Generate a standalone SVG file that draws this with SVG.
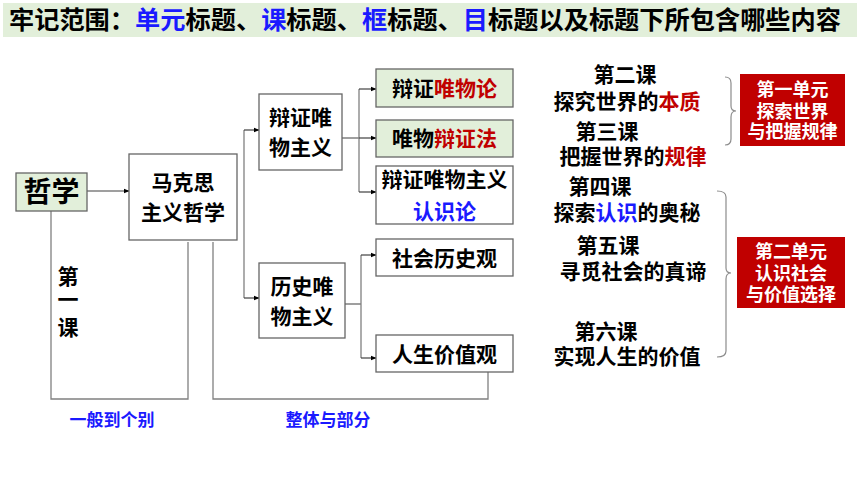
<svg xmlns="http://www.w3.org/2000/svg" width="860" height="484" viewBox="0 0 860 484">
<defs>
<marker id="ah" markerWidth="6" markerHeight="6" refX="5.5" refY="3" orient="auto" markerUnits="userSpaceOnUse">
<path d="M0,0.5 L6,3 L0,5.5 Z" fill="#000"/>
</marker>
<style>
text{font-family:"Liberation Sans","Noto Sans CJK SC",sans-serif;font-weight:bold;fill:#000}
.box{fill:#fff;stroke:#666;stroke-width:1.3}
.gbox{fill:#e2efda;stroke:#666;stroke-width:1.3}
.rbox{fill:#c00000;stroke:none}
.ln{fill:none;stroke:#808080;stroke-width:1.3}
.arr{fill:none;stroke:#404040;stroke-width:1.2;marker-end:url(#ah)}
.br{fill:none;stroke:#8c8c8c;stroke-width:1.2}
.c{text-anchor:middle}
.red{fill:#c00000}
.blue{fill:#1a1aff}
.wt{fill:#fff;font-size:18px}
.n{font-size:21px}
.les{font-size:21px}
</style>
</defs>
<g id="title">
<rect x="3" y="3" width="854" height="34" fill="#e2efda"/>
<text x="9" y="29" font-size="25" textLength="832" lengthAdjust="spacingAndGlyphs">牢记范围：<tspan class="blue">单元</tspan>标题、<tspan class="blue">课</tspan>标题、<tspan class="blue">框</tspan>标题、<tspan class="blue">目</tspan>标题以及标题下所包含哪些内容</text>
</g>
<g id="connectors">
<path class="arr" d="M87,191 H129"/>
<path class="ln" d="M244,130 V298"/>
<path class="arr" d="M244,130 H259"/>
<path class="arr" d="M244,298 H259"/>
<path class="ln" d="M342,138 H359 M359,89 V192"/>
<path class="arr" d="M359,89 H376"/>
<path class="arr" d="M359,138 H376"/>
<path class="arr" d="M359,192 H376"/>
<path class="ln" d="M345,304 H361 M361,255 V358"/>
<path class="arr" d="M361,255 H376"/>
<path class="arr" d="M361,358 H376"/>
<path class="ln" d="M51,211 V399 H188 V242"/>
<path class="ln" d="M213,242 V399 H488 V372"/>
<path class="br" d="M725,77 Q731,77 731,83 V106 Q731,111 736,111 Q731,111 731,117 V139 Q731,145 725,145"/>
<path class="br" d="M717,191 Q726,191 726,197 V268 Q726,273 731,273 Q726,273 726,279 V351 Q726,357 717,357"/>
</g>
<g id="zhexue">
<rect class="gbox" x="16" y="173" width="71" height="38"/>
<text class="c" x="51.5" y="202" font-size="28">哲学</text>
</g>
<g id="makesi">
<rect class="box" x="129" y="154" width="108" height="86"/>
<text class="c n" x="183" y="190">马克思</text>
<text class="c n" x="183" y="220">主义哲学</text>
</g>
<g id="bianzheng">
<rect class="box" x="259" y="94" width="83" height="76"/>
<text class="c n" x="300.5" y="125">辩证唯</text>
<text class="c n" x="300.5" y="155">物主义</text>
</g>
<g id="lishi">
<rect class="box" x="259" y="263" width="86" height="75"/>
<text class="c n" x="302" y="294">历史唯</text>
<text class="c n" x="302" y="324">物主义</text>
</g>
<g id="weiwulun">
<rect class="gbox" x="376" y="69" width="137" height="38"/>
<text class="c n" x="444.5" y="96">辩证<tspan class="red">唯物论</tspan></text>
</g>
<g id="bianzhengfa">
<rect class="gbox" x="376" y="120" width="137" height="37"/>
<text class="c n" x="444.5" y="146">唯物<tspan class="red">辩证法</tspan></text>
</g>
<g id="renshilun">
<rect class="box" x="376" y="166" width="137" height="58"/>
<text class="c n" x="444.5" y="187">辩证唯物主义</text>
<text class="c n blue" x="444.5" y="219">认识论</text>
</g>
<g id="shehui">
<rect class="box" x="376" y="239" width="137" height="37"/>
<text class="c n" x="444.5" y="266">社会历史观</text>
</g>
<g id="rensheng">
<rect class="box" x="376" y="335" width="137" height="37"/>
<text class="c n" x="444.5" y="362">人生价值观</text>
</g>
<g id="diyike">
<text class="c les" x="68" y="284">第</text>
<text class="c les" x="68" y="307">一</text>
<text class="c les" x="68" y="335">课</text>
</g>
<g id="labels">
<text class="c blue" x="112" y="426" font-size="17">一般到个别</text>
<text class="c blue" x="328" y="426" font-size="17">整体与部分</text>
</g>
<g id="lessons">
<text class="c les" x="625" y="82">第二课</text>
<text class="c les" x="627" y="109">探究世界的<tspan class="red">本质</tspan></text>
<text class="c les" x="607" y="139">第三课</text>
<text class="c les" x="633" y="164">把握世界的<tspan class="red">规律</tspan></text>
<text class="c les" x="600" y="194">第四课</text>
<text class="c les" x="627" y="220">探索<tspan class="blue">认识</tspan>的奥秘</text>
<text class="c les" x="608" y="253">第五课</text>
<text class="c les" x="633" y="279">寻觅社会的真谛</text>
<text class="c les" x="606" y="339">第六课</text>
<text class="c les" x="627" y="364">实现人生的价值</text>
</g>
<g id="unit1">
<rect class="rbox" x="740" y="74" width="105" height="72"/>
<text class="c wt" x="792.5" y="96">第一单元</text>
<text class="c wt" x="792.5" y="118">探索世界</text>
<text class="c wt" x="792.5" y="138">与把握规律</text>
</g>
<g id="unit2">
<rect class="rbox" x="737" y="237" width="108" height="71"/>
<text class="c wt" x="791" y="258">第二单元</text>
<text class="c wt" x="791" y="280">认识社会</text>
<text class="c wt" x="791" y="301">与价值选择</text>
</g>
</svg>
